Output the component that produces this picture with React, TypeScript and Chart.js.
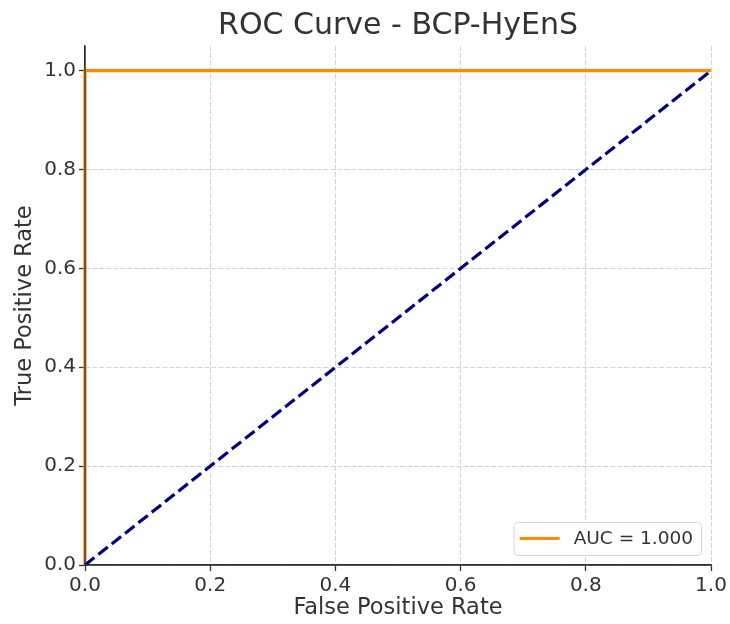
import React, { useEffect, useRef } from 'react';
import { Chart, registerables } from 'chart.js';

Chart.register(...registerables);

const rocFpr = [0, 0, 1];
const rocTpr = [0, 1, 1];
const chanceFpr = [0, 1];
const chanceTpr = [0, 1];
const tickValues = [0, 0.2, 0.4, 0.6, 0.8, 1.0];
const titleText = 'ROC Curve - BCP-HyEnS';
const xLabel = 'False Positive Rate';
const yLabel = 'True Positive Rate';
const legendLabel = 'AUC = 1.000';
const xMin = 0;
const xMax = 1;
const yMin = 0;
const yMax = 1.05;

const FONT = '"DejaVu Sans", sans-serif';
const TEXT = '#333333';
const SPINE = '#333333';
const ORANGE = '#ff8c00';
const NAVY = '#000080';

const overlayPlugin = {
  id: 'overlay',
  afterDatasetsDraw(chart: any) {
    const { ctx, chartArea: a } = chart;
    ctx.save();
    ctx.strokeStyle = SPINE;
    ctx.lineWidth = 1.3;
    ctx.setLineDash([]);
    ctx.beginPath();
    ctx.moveTo(a.left, a.top);
    ctx.lineTo(a.left, a.bottom);
    ctx.lineTo(a.right, a.bottom);
    ctx.stroke();
    ctx.restore();
  },
  afterDraw(chart: any) {
    const { ctx, chartArea: a } = chart;
    const cx = (a.left + a.right) / 2;
    const cy = (a.top + a.bottom) / 2;
    ctx.save();
    ctx.fillStyle = TEXT;
    ctx.textAlign = 'center';
    ctx.textBaseline = 'alphabetic';
    // title
    ctx.font = `30px ${FONT}`;
    ctx.fillText(titleText, cx, 34);
    // x label
    ctx.font = `22.5px ${FONT}`;
    ctx.fillText(xLabel, cx, 614);
    // y label
    ctx.save();
    ctx.translate(31, cy);
    ctx.rotate(-Math.PI / 2);
    ctx.fillText(yLabel, 0, 0);
    ctx.restore();

    // legend
    ctx.font = `18.5px ${FONT}`;
    const tw = ctx.measureText(legendLabel).width;
    const boxH = 33;
    const boxW = 6 + 40 + 14 + tw + 8;
    const bx = a.right - 10 - boxW;
    const by = a.bottom - 10 - boxH;
    ctx.beginPath();
    if ((ctx as any).roundRect) {
      (ctx as any).roundRect(bx + 0.5, by + 0.5, boxW, boxH, 4);
    } else {
      ctx.rect(bx + 0.5, by + 0.5, boxW, boxH);
    }
    ctx.fillStyle = 'rgba(255,255,255,0.8)';
    ctx.fill();
    ctx.strokeStyle = '#d6d6d6';
    ctx.lineWidth = 1;
    ctx.stroke();
    const ly = by + boxH / 2;
    ctx.strokeStyle = ORANGE;
    ctx.lineWidth = 3.2;
    ctx.beginPath();
    ctx.moveTo(bx + 6, ly);
    ctx.lineTo(bx + 46, ly);
    ctx.stroke();
    ctx.fillStyle = TEXT;
    ctx.textAlign = 'left';
    ctx.textBaseline = 'middle';
    ctx.fillText(legendLabel, bx + 60, ly + 1);
    ctx.restore();
  },
};

function App() {
  const canvasRef = useRef<HTMLCanvasElement | null>(null);

  useEffect(() => {
    document.body.style.margin = '0';
    const canvas = canvasRef.current;
    if (!canvas) return;

    const tickFont = { family: FONT, size: 20 };
    const gridOpts = {
      color: '#d4d4d4',
      lineWidth: 1,
      tickLength: 6,
      tickColor: SPINE,
      tickWidth: 1.3,
    };
    const borderOpts = { display: true, color: SPINE, width: 1.3, dash: [5, 2] };
    const setTicks = (scale: any) => {
      scale.ticks = tickValues.map((v) => ({ value: v }));
    };

    const chart = new Chart(canvas, {
      type: 'scatter',
      data: {
        datasets: [
          {
            label: legendLabel,
            data: rocFpr.map((x, i) => ({ x, y: rocTpr[i] })),
            borderColor: ORANGE,
            backgroundColor: ORANGE,
            borderWidth: 3.2,
            showLine: true,
            pointRadius: 0,
            order: 1,
            clip: false,
          } as any,
          {
            label: 'Chance',
            data: chanceFpr.map((x, i) => ({ x, y: chanceTpr[i] })),
            borderColor: NAVY,
            backgroundColor: NAVY,
            borderWidth: 3.2,
            borderDash: [12, 5],
            showLine: true,
            pointRadius: 0,
            order: 0,
            clip: false,
          } as any,
        ],
      },
      options: {
        responsive: false,
        animation: false,
        layout: { padding: { top: 46, right: 19, left: 0, bottom: 0 } },
        plugins: {
          legend: { display: false },
          title: { display: false },
          tooltip: { enabled: false },
        },
        scales: {
          x: {
            type: 'linear',
            min: xMin,
            max: xMax,
            afterBuildTicks: setTicks,
            afterFit: (s: any) => {
              s.height = 59;
            },
            ticks: {
              font: tickFont,
              color: TEXT,
              padding: 3,
              maxRotation: 0,
              autoSkip: false,
              callback: (v: any) => Number(v).toFixed(1),
            },
            grid: gridOpts,
            border: borderOpts,
          },
          y: {
            type: 'linear',
            min: yMin,
            max: yMax,
            afterBuildTicks: setTicks,
            afterFit: (s: any) => {
              s.width = 85;
            },
            ticks: {
              font: tickFont,
              color: TEXT,
              padding: 3,
              autoSkip: false,
              callback: (v: any) => Number(v).toFixed(1),
            },
            grid: gridOpts,
            border: borderOpts,
          },
        },
      } as any,
      plugins: [overlayPlugin],
    });

    return () => {
      chart.destroy();
    };
  }, []);

  return (
    <div style={{ width: 730, height: 624 }}>
      <canvas ref={canvasRef} width={730} height={624} style={{ display: 'block' }} />
    </div>
  );
}

export default App;
